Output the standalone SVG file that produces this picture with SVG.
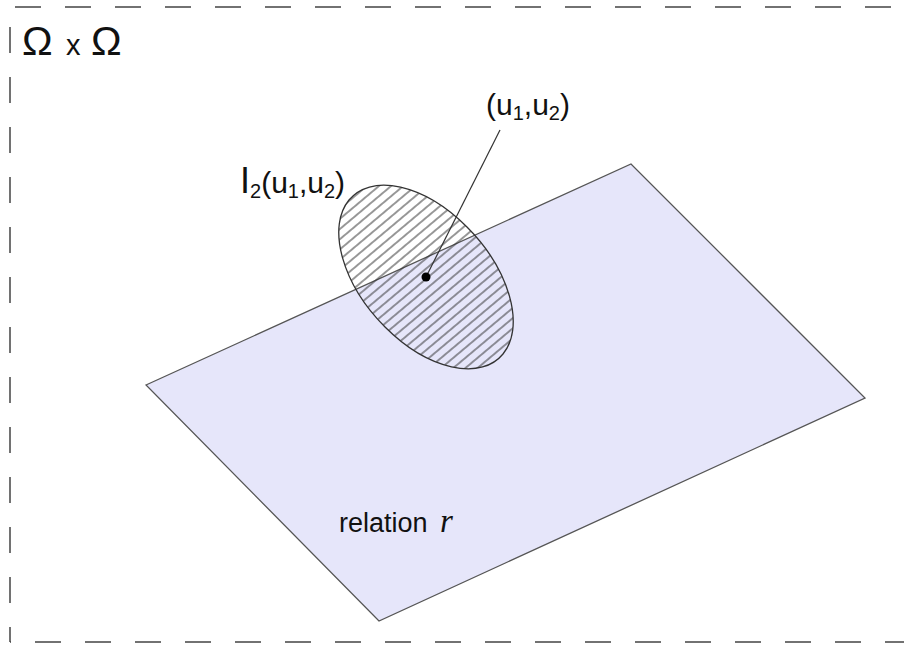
<svg xmlns="http://www.w3.org/2000/svg" width="904" height="646" viewBox="0 0 904 646">
<style>
.border{fill:none;stroke:#444;stroke-width:1.5;stroke-dasharray:26 24}
.sans{font-family:"Liberation Sans",Arial,sans-serif;fill:#111}
.plane{fill:#e6e6fa;stroke:#555;stroke-width:1.3;stroke-linejoin:miter}
.ell{fill:url(#hatch);stroke:#333;stroke-width:1.3}
.leader{stroke:#333;stroke-width:1.2;fill:none}
</style>
<defs>
<pattern id="hatch" patternUnits="userSpaceOnUse" width="10" height="7.8" patternTransform="rotate(-40)">
<line x1="0" y1="3.9" x2="10" y2="3.9" stroke="#333" stroke-width="1"/>
</pattern>
</defs>
<rect width="904" height="646" fill="#fff"/>
<g id="frame">
<line class="border" x1="10" y1="7" x2="904" y2="7" stroke-dashoffset="45"/>
<line class="border" x1="10" y1="7" x2="10" y2="642" stroke-dashoffset="30"/>
<line class="border" x1="10" y1="642" x2="904" y2="642" stroke-dashoffset="25"/>
<text class="sans" x="22" y="55" font-size="41">Ω</text>
<text class="sans" x="66" y="55" font-size="29">x</text>
<text class="sans" x="91" y="55" font-size="41">Ω</text>
</g>
<g id="relation">
<polygon class="plane" points="146,385 631,164 865,398 379,621"/>
<text class="sans" x="339" y="532" font-size="27">relation</text>
<text x="440" y="532" font-size="33" font-style="italic" font-family="'Liberation Serif','Times New Roman',serif" fill="#111">r</text>
</g>
<g id="neighbourhood">
<path class="ell" d="M 349.0 200.0 A 109 64 48 1 0 503.0 354.0 A 109 64 48 1 0 349.0 200.0 Z"/>
<text class="sans" x="240" y="193" font-size="36">I<tspan font-size="20" dy="5">2</tspan><tspan font-size="30" dy="-5">(u</tspan><tspan font-size="20" dy="5">1</tspan><tspan font-size="30" dy="-5">,u</tspan><tspan font-size="20" dy="5">2</tspan><tspan font-size="30" dy="-5">)</tspan></text>
</g>
<g id="connectors">
<line class="leader" x1="500" y1="130" x2="426" y2="277"/>
</g>
<g id="point">
<circle cx="426" cy="277" r="4.5" fill="#000"/>
<text class="sans" x="486" y="115" font-size="30">(u<tspan font-size="20" dy="5">1</tspan><tspan dy="-5">,u</tspan><tspan font-size="20" dy="5">2</tspan><tspan dy="-5">)</tspan></text>
</g>
</svg>
